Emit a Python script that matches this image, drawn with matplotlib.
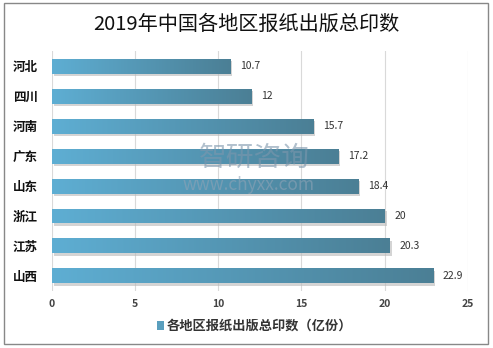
import numpy as np
import matplotlib.pyplot as plt
from matplotlib.patches import Rectangle
from matplotlib.colors import LinearSegmentedColormap

plt.rcParams['font.family'] = ['Noto Sans CJK SC', 'DejaVu Sans']

regions = ['河北', '四川', '河南', '广东', '山东', '浙江', '江苏', '山西']
values = [10.7, 12, 15.7, 17.2, 18.4, 20, 20.3, 22.9]
xticks = [0, 5, 10, 15, 20, 25]
title = '2019年中国各地区报纸出版总印数'
legend_label = '各地区报纸出版总印数（亿份）'

fig = plt.figure(figsize=(4.93, 3.48), dpi=100)
ax = fig.add_axes([0.105, 0.164, 0.844, 0.689])

y = np.arange(len(regions))
bars = ax.barh(y, values, height=0.5, color='#5a9fbe', zorder=3,
               edgecolor='none')

# gradient fill + soft shadow for each bar
cmap = LinearSegmentedColormap.from_list('bar', ['#5eaed3', '#4b7f95'])
grad = np.linspace(0, 1, 256).reshape(1, -1)
for b, v in zip(bars, values):
    x0, y0 = b.get_x(), b.get_y()
    h = b.get_height()
    sh = Rectangle((x0 + 0.12, y0 + 0.07), v, h, color='#b8b8b8', alpha=0.6,
                   zorder=2, lw=0)
    ax.add_patch(sh)
    im = ax.imshow(grad, extent=[x0, x0 + v, y0 + h, y0], aspect='auto',
                   cmap=cmap, zorder=4)
    im.set_clip_path(b)
    ax.text(v + 0.6, b.get_y() + h / 2, f'{v:g}', va='center', ha='left',
            fontsize=7.5, color='#333333', zorder=5)

ax.set_xlim(0, 25)
ax.set_ylim(len(regions) - 0.5, -0.5)
ax.set_xticks(xticks)
ax.set_xticklabels([str(t) for t in xticks], fontsize=7.5, color='#444444',
                   fontweight='bold')
ax.set_yticks(y)
ax.set_yticklabels(regions, fontsize=9, fontweight='bold', color='#111111')
ax.tick_params(length=0, pad=6)
ax.tick_params(axis='y', pad=10)
ax.grid(axis='x', color='#d9d9d9', lw=0.8, zorder=0)
for s in ax.spines.values():
    s.set_visible(False)
ax.set_facecolor('none')

# watermark
ax.text(12.2, 3.05, '智研咨询', fontsize=20, color='#7d97ad', alpha=0.6,
        ha='center', va='center', zorder=6)
ax.text(11.8, 3.95, 'www.chyxx.com', fontsize=12.5, color='#8ea3b6', alpha=0.6,
        ha='center', va='center', zorder=6)

fig.text(0.5, 0.93, title, ha='center', va='center', fontsize=14.5,
         color='#111111')

# legend
fig.patches.append(Rectangle((0.318, 0.052), 0.014, 0.026, transform=fig.transFigure,
                             facecolor='#5a9fbe', edgecolor='none'))
fig.text(0.338, 0.064, legend_label, ha='left', va='center', fontsize=9.5,
         color='#333333', fontweight='bold')

# frame
fig.patches.append(Rectangle((0.008, 0.011), 0.982, 0.98, transform=fig.transFigure,
                             fill=False, edgecolor='#888888', lw=1))

fig.savefig('out.png', dpi=100)
